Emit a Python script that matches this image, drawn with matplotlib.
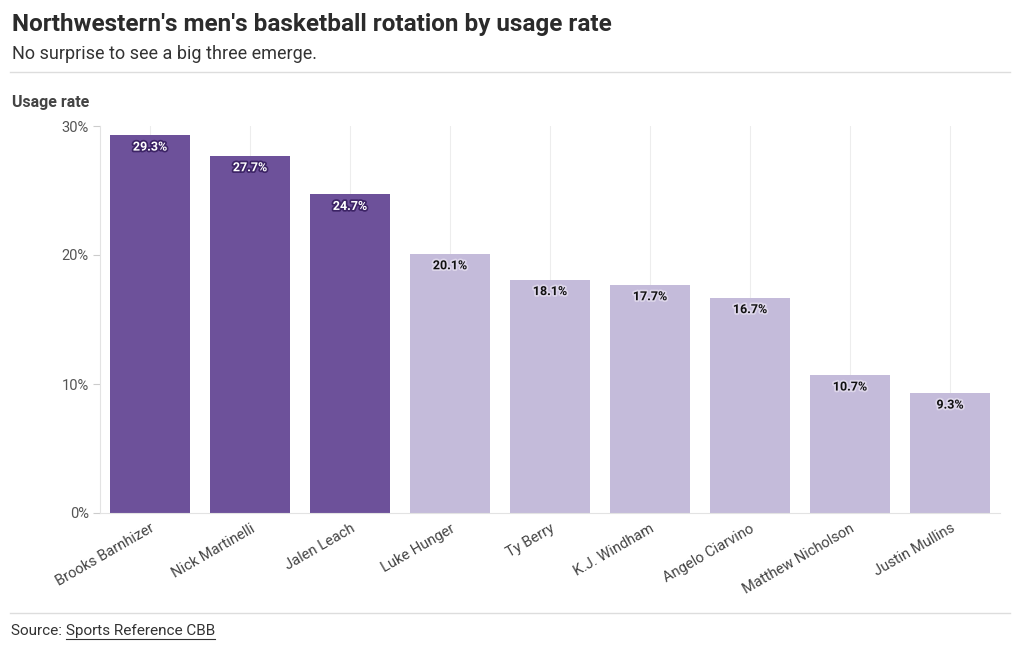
import matplotlib.pyplot as plt
import matplotlib.patheffects as pe
from matplotlib.lines import Line2D

plt.rcParams['font.family'] = ['Roboto', 'DejaVu Sans']

players = ['Brooks Barnhizer', 'Nick Martinelli', 'Jalen Leach', 'Luke Hunger',
           'Ty Berry', 'K.J. Windham', 'Angelo Ciarvino', 'Matthew Nicholson',
           'Justin Mullins']
usage = [29.3, 27.7, 24.7, 20.1, 18.1, 17.7, 16.7, 10.7, 9.3]
big_three = [True, True, True, False, False, False, False, False, False]

dark = '#6d519a'
light = '#c4bbda'

fig = plt.figure(figsize=(10.2, 6.5), dpi=100)
ax = fig.add_axes([100 / 1020, 1 - 513 / 650, 900 / 1020, 387 / 650])

x = range(len(players))
colors = [dark if b else light for b in big_three]
ax.bar(x, usage, width=0.8, color=colors, zorder=2)

for i, (v, b) in enumerate(zip(usage, big_three)):
    if b:
        txt_c, halo = 'white', '#3d2466'
    else:
        txt_c, halo = '#111111', '#ddd6ea'
    ax.annotate(f'{v}%', (i, v), xytext=(0, -4), textcoords='offset points',
                ha='center', va='top', fontsize=9, fontweight='bold', color=txt_c,
                zorder=3, path_effects=[pe.withStroke(linewidth=2.5, foreground=halo)])

ax.set_xlim(-0.5, len(players) - 0.5)
ax.set_ylim(0, 30)
ax.set_yticks([0, 10, 20, 30])
ax.set_yticklabels(['0%', '10%', '20%', '30%'])
ax.set_xticks(list(x))
ax.set_xticklabels(players, rotation=30, ha='right', rotation_mode='anchor')

ax.grid(axis='x', color='#ededed', linewidth=0.8, zorder=0)
for s in ['top', 'right']:
    ax.spines[s].set_visible(False)
ax.spines['left'].set_color('#e3e3e3')
ax.spines['bottom'].set_color('#e3e3e3')
ax.tick_params(axis='y', length=5, color='#cccccc', labelsize=10.5, labelcolor='#555555', pad=3)
ax.tick_params(axis='x', length=0, labelsize=10.5, labelcolor='#444444', pad=6)

fig.text(12 / 1020, 1 - 24 / 650, "Northwestern's men's basketball rotation by usage rate",
         fontsize=17.5, fontweight='bold', color='#2b2b2b', va='center')
fig.text(12 / 1020, 1 - 54 / 650, 'No surprise to see a big three emerge.',
         fontsize=13, color='#333333', va='center')
fig.add_artist(Line2D([10 / 1020, 1010 / 1020], [1 - 72 / 650] * 2, color='#dddddd', lw=1))
fig.text(12 / 1020, 1 - 102 / 650, 'Usage rate', fontsize=11.5, fontweight='bold',
         color='#444444', va='center')

fig.add_artist(Line2D([10 / 1020, 1010 / 1020], [1 - 613 / 650] * 2, color='#dddddd', lw=1))
src = fig.text(11 / 1020, 1 - 631 / 650, 'Source: ', fontsize=11, color='#333333', va='center')
fig.canvas.draw()
bb = src.get_window_extent()
link = fig.text(bb.x1 / 1020, 1 - 631 / 650, 'Sports Reference CBB', fontsize=11,
                color='#333333', va='center')
fig.canvas.draw()
lb = link.get_window_extent()
fig.add_artist(Line2D([lb.x0 / 1020, lb.x1 / 1020], [(lb.y0 - 1) / 650] * 2,
                      color='#333333', lw=0.8))

fig.savefig('out.png', dpi=100, facecolor='white')
